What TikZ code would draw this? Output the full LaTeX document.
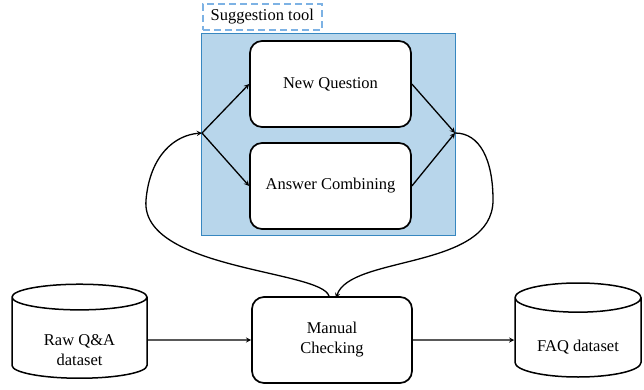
\documentclass[tikz,border=0pt]{standalone}
\usepackage{fontspec}
\setmainfont{Liberation Serif}
\usetikzlibrary{shapes.geometric}

\definecolor{toolfill}{RGB}{184,214,235}
\definecolor{tooldraw}{RGB}{55,135,192}
\definecolor{tooldash}{RGB}{125,178,228}

\tikzset{
    stepbox/.style={draw, line width=1.7pt, rounded corners=12pt, fill=white,
        minimum width=161pt, minimum height=86pt, align=center},
    store/.style={draw, line width=1.5pt, cylinder, shape border rotate=90,
        aspect=0.33, minimum width=135pt, minimum height=94pt, align=center},
    flow/.style={->, line width=1.3pt}
}
\newcommand{\lowtext}[1]{\rule{0pt}{#1}}

\begin{document}
\begin{tikzpicture}[x=1pt, y=-1pt, >=stealth, font=\rmfamily\fontsize{16.5}{20}\selectfont]

    \useasboundingbox (0,0) rectangle (644,389);

    % suggestion tool
    \node[draw=tooldash, line width=1.6pt, dash pattern=on 7pt off 4pt,
        minimum width=119pt, minimum height=26pt, anchor=north west] (label) at (202,3) {Suggestion tool};
    \draw[draw=tooldraw, fill=toolfill, line width=0.8pt] (201,33) rectangle (455,235);

    % boxes
    \node[stepbox] (newq) at (330.5,84) {New Question};
    \node[stepbox] (comb) at (330.5,186) {Answer Combining};
    \node[stepbox, minimum width=160pt] (check) at (332,340) {Manual\\Checking};

    % datasets
    \node[store] (raw) at (79.5,340) {\lowtext{31pt}Raw Q\&A\\dataset};
    \node[store, minimum width=126pt] (faq) at (578,340) {\lowtext{26pt}FAQ dataset};

    % junctions
    \coordinate (split) at (202,133);
    \coordinate (merge) at (455,133);

    % arrows
    \draw[flow] (split) -- (newq.west);
    \draw[flow] (split) -- (comb.west);
    \draw[flow] (newq.east) -- (merge);
    \draw[flow] (comb.east) -- (merge);
    \draw[flow] (raw.east) -- (check.west);
    \draw[flow] (check.east) -- (faq.west);

    % loops
    \draw[flow] ([xshift=-3pt]check.north)
        .. controls (322,270) and (140,270) .. (146,200)
        .. controls (150,155) and (175,135) .. (split);
    \draw[flow] (merge)
        .. controls (480,133) and (493,160) .. (493,200)
        .. controls (493,270) and (350,255) .. ([xshift=4pt,yshift=-2pt]check.north);

\end{tikzpicture}
\end{document}
